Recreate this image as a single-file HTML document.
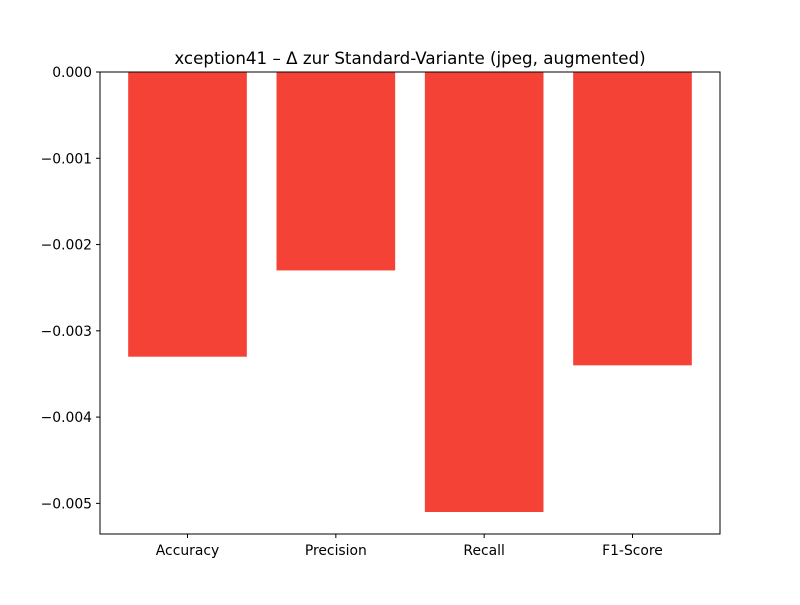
<!DOCTYPE html>
<html><head><meta charset="utf-8"><style>
body{margin:0;background:#fff;}
svg text{font-family:"DejaVu Sans","Liberation Sans",sans-serif;}
</style></head><body>
<svg id="chart" width="800" height="600">
<rect width="800" height="600" fill="#fff"/>
<text x="410" y="64" text-anchor="middle" font-size="16.7">xception41 – Δ zur Standard-Variante (jpeg, augmented)</text>
<g id="bars"></g>
<g id="yticks"></g>
<g id="xticks"></g>
<rect x="100" y="72" width="620" height="462" fill="none" stroke="#000" stroke-width="1"/>
</svg>
<script>
const categories = ["Accuracy","Precision","Recall","F1-Score"];
const values = [-0.0033,-0.0023,-0.0051,-0.0034];
const yTicks = [0,-0.001,-0.002,-0.003,-0.004,-0.005];
const yTickLabels = ["0.000","−0.001","−0.002","−0.003","−0.004","−0.005"];

const L=100,R=720,T=72,B=534;
const ns="http://www.w3.org/2000/svg";
const minV=Math.min(0,...values), maxV=Math.max(0,...values);
const span=maxV-minV;
const yMin=minV-span*0.05, yMax=maxV+ (maxV>0?span*0.05:0);
const y=v=>T+(yMax-v)/(yMax-yMin)*(B-T);
const xMin=-0.4-0.19, xMax=categories.length-1+0.4+0.19;
const x=i=>L+(i-xMin)/(xMax-xMin)*(R-L);
const pxPer=(R-L)/(xMax-xMin);
function mk(tag,attrs,parent){const e=document.createElementNS(ns,tag);for(const k in attrs)e.setAttribute(k,attrs[k]);parent.appendChild(e);return e;}
const gb=document.getElementById('bars'),gy=document.getElementById('yticks'),gx=document.getElementById('xticks');
values.forEach((v,i)=>{
  const r=mk('rect',{x:x(i)-0.4*pxPer,width:0.8*pxPer,y:Math.min(y(0),y(v)),height:Math.abs(y(v)-y(0)),fill:'#f44336'},gb);
  
  
  const t=mk('line',{x1:x(i),x2:x(i),y1:B,y2:B+4,stroke:'#000'},gx);
  
  
  const l=mk('text',{x:x(i),y:B+21,'text-anchor':'middle','font-size':13.9},gx);
  l.textContent=categories[i];
  
  
});
yTicks.forEach((v,i)=>{
  const t=mk('line',{x1:L-4,x2:L,y1:y(v),y2:y(v),stroke:'#000'},gy);
  
  
  const l=mk('text',{x:L-8,y:y(v)+5,'text-anchor':'end','font-size':13.9},gy);
  l.textContent=yTickLabels[i];
  
  
});
</script>
</body></html>
